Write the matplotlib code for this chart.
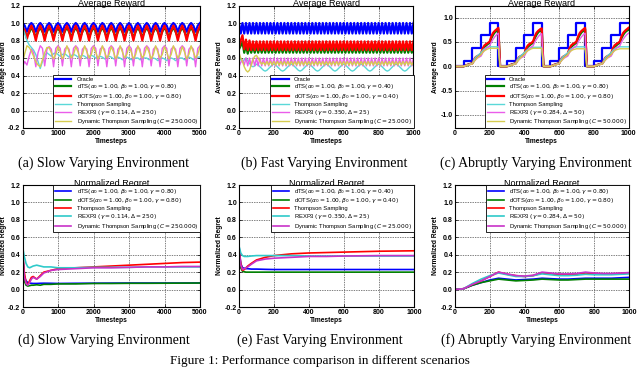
import numpy as np
import matplotlib.pyplot as plt

plt.rcParams['font.family'] = ['Liberation Sans', 'DejaVu Sans']
plt.rcParams['mathtext.fontset'] = 'dejavusans'

# ---------------- data: average reward, slow varying (step 62.5)
ta = np.arange(0, 5001, 62.5)
oracle_a = [
    1.00, 0.97, 0.90, 0.97, 1.00, 0.97, 0.90, 0.97,
    1.00, 0.97, 0.90, 0.97, 1.00, 0.97, 0.90, 0.97,
    1.00, 0.97, 0.90, 0.97, 1.00, 0.97, 0.90, 0.97,
    1.00, 0.97, 0.90, 0.97, 1.00, 0.97, 0.90, 0.97,
    1.00, 0.97, 0.90, 0.97, 1.00, 0.97, 0.90, 0.97,
    1.00, 0.97, 0.90, 0.97, 1.00, 0.97, 0.90, 0.97,
    1.00, 0.97, 0.90, 0.97, 1.00, 0.97, 0.90, 0.97,
    1.00, 0.97, 0.90, 0.97, 1.00, 0.97, 0.90, 0.97,
    1.00, 0.97, 0.90, 0.97, 1.00, 0.97, 0.90, 0.97,
    1.00, 0.97, 0.90, 0.97, 1.00, 0.97, 0.90, 0.97,
    1.00,
]
dts_a = [
    0.90, 0.90, 0.85, 0.89, 0.95, 0.90, 0.84, 0.90,
    0.95, 0.90, 0.84, 0.90, 0.95, 0.90, 0.84, 0.90,
    0.95, 0.90, 0.84, 0.90, 0.95, 0.90, 0.84, 0.90,
    0.95, 0.90, 0.84, 0.90, 0.95, 0.90, 0.84, 0.90,
    0.95, 0.90, 0.84, 0.90, 0.95, 0.90, 0.84, 0.90,
    0.95, 0.90, 0.84, 0.90, 0.95, 0.90, 0.84, 0.90,
    0.95, 0.90, 0.84, 0.90, 0.95, 0.90, 0.84, 0.90,
    0.95, 0.90, 0.84, 0.90, 0.95, 0.90, 0.84, 0.90,
    0.95, 0.90, 0.84, 0.90, 0.95, 0.90, 0.84, 0.90,
    0.95, 0.90, 0.84, 0.90, 0.95, 0.90, 0.84, 0.90,
    0.95,
]
dots_a = [
    0.95, 0.92, 0.82, 0.91, 0.97, 0.91, 0.80, 0.91,
    0.97, 0.91, 0.80, 0.91, 0.97, 0.91, 0.80, 0.91,
    0.97, 0.91, 0.80, 0.91, 0.97, 0.91, 0.80, 0.91,
    0.97, 0.91, 0.80, 0.91, 0.97, 0.91, 0.80, 0.91,
    0.97, 0.91, 0.80, 0.91, 0.97, 0.91, 0.80, 0.91,
    0.97, 0.91, 0.80, 0.91, 0.97, 0.91, 0.80, 0.91,
    0.97, 0.91, 0.80, 0.91, 0.97, 0.91, 0.80, 0.91,
    0.97, 0.91, 0.80, 0.91, 0.97, 0.91, 0.80, 0.91,
    0.97, 0.91, 0.80, 0.91, 0.97, 0.91, 0.80, 0.91,
    0.97, 0.91, 0.80, 0.91, 0.97, 0.91, 0.80, 0.91,
    0.97,
]
ts_a = [
    0.95, 0.88, 0.80, 0.75, 0.72, 0.69, 0.64, 0.56,
    0.48, 0.56, 0.63, 0.66, 0.64, 0.62, 0.65, 0.66,
    0.64, 0.62, 0.64, 0.65, 0.63, 0.61, 0.63, 0.64,
    0.63, 0.61, 0.62, 0.63, 0.62, 0.60, 0.62, 0.63,
    0.62, 0.60, 0.61, 0.62, 0.61, 0.59, 0.61, 0.62,
    0.61, 0.59, 0.60, 0.61, 0.60, 0.58, 0.60, 0.61,
    0.60, 0.58, 0.59, 0.60, 0.60, 0.58, 0.59, 0.60,
    0.60, 0.58, 0.59, 0.60, 0.59, 0.57, 0.59, 0.60,
    0.59, 0.57, 0.59, 0.60, 0.59, 0.57, 0.59, 0.60,
    0.60, 0.58, 0.59, 0.61, 0.60, 0.58, 0.60, 0.61,
    0.61,
]
rexp3_a = [
    0.50, 0.56, 0.52, 0.62, 0.70, 0.66, 0.50, 0.66,
    0.74, 0.71, 0.51, 0.70, 0.73, 0.70, 0.50, 0.71,
    0.74, 0.71, 0.51, 0.70, 0.73, 0.70, 0.50, 0.71,
    0.74, 0.71, 0.51, 0.70, 0.73, 0.70, 0.50, 0.71,
    0.74, 0.71, 0.51, 0.70, 0.73, 0.70, 0.50, 0.71,
    0.74, 0.71, 0.51, 0.70, 0.73, 0.70, 0.50, 0.71,
    0.74, 0.71, 0.51, 0.70, 0.73, 0.70, 0.50, 0.71,
    0.74, 0.71, 0.51, 0.70, 0.73, 0.70, 0.50, 0.71,
    0.74, 0.71, 0.51, 0.70, 0.73, 0.70, 0.50, 0.71,
    0.74, 0.71, 0.51, 0.70, 0.73, 0.70, 0.50, 0.71,
    0.74,
]
dyn_a = [
    0.55, 0.65, 0.74, 0.72, 0.68, 0.62, 0.56, 0.52,
    0.50, 0.58, 0.66, 0.72, 0.72, 0.66, 0.59, 0.64,
    0.73, 0.67, 0.59, 0.64, 0.74, 0.67, 0.60, 0.64,
    0.73, 0.67, 0.59, 0.64, 0.74, 0.67, 0.60, 0.64,
    0.73, 0.67, 0.59, 0.64, 0.74, 0.67, 0.60, 0.64,
    0.73, 0.67, 0.59, 0.64, 0.74, 0.67, 0.60, 0.64,
    0.73, 0.67, 0.59, 0.64, 0.74, 0.67, 0.60, 0.64,
    0.73, 0.67, 0.59, 0.64, 0.74, 0.67, 0.60, 0.64,
    0.73, 0.67, 0.59, 0.64, 0.74, 0.67, 0.60, 0.64,
    0.73, 0.67, 0.59, 0.64, 0.74, 0.67, 0.60, 0.64,
    0.73,
]

# ---------------- average reward, fast varying (step 10)
tb = np.arange(0, 1001, 10)
oracle_b = [
    1.00, 0.88, 1.00, 0.88, 1.00, 0.88, 1.00, 0.88, 1.00, 0.88,
    1.00, 0.88, 1.00, 0.88, 1.00, 0.88, 1.00, 0.88, 1.00, 0.88,
    1.00, 0.88, 1.00, 0.88, 1.00, 0.88, 1.00, 0.88, 1.00, 0.88,
    1.00, 0.88, 1.00, 0.88, 1.00, 0.88, 1.00, 0.88, 1.00, 0.88,
    1.00, 0.88, 1.00, 0.88, 1.00, 0.88, 1.00, 0.88, 1.00, 0.88,
    1.00, 0.88, 1.00, 0.88, 1.00, 0.88, 1.00, 0.88, 1.00, 0.88,
    1.00, 0.88, 1.00, 0.88, 1.00, 0.88, 1.00, 0.88, 1.00, 0.88,
    1.00, 0.88, 1.00, 0.88, 1.00, 0.88, 1.00, 0.88, 1.00, 0.88,
    1.00, 0.88, 1.00, 0.88, 1.00, 0.88, 1.00, 0.88, 1.00, 0.88,
    1.00, 0.88, 1.00, 0.88, 1.00, 0.88, 1.00, 0.88, 1.00, 0.88,
    1.00,
]
dts_b = [
    0.70, 0.74, 0.78, 0.66, 0.75, 0.65, 0.74, 0.66, 0.74, 0.66,
    0.74, 0.66, 0.74, 0.66, 0.74, 0.66, 0.74, 0.66, 0.74, 0.66,
    0.74, 0.66, 0.74, 0.66, 0.74, 0.66, 0.74, 0.66, 0.74, 0.66,
    0.74, 0.66, 0.74, 0.66, 0.74, 0.66, 0.74, 0.66, 0.74, 0.66,
    0.74, 0.66, 0.74, 0.66, 0.74, 0.66, 0.74, 0.66, 0.74, 0.66,
    0.74, 0.66, 0.74, 0.66, 0.74, 0.66, 0.74, 0.66, 0.74, 0.66,
    0.74, 0.66, 0.74, 0.66, 0.74, 0.66, 0.74, 0.66, 0.74, 0.66,
    0.74, 0.66, 0.74, 0.66, 0.74, 0.66, 0.74, 0.66, 0.74, 0.66,
    0.74, 0.66, 0.74, 0.66, 0.74, 0.66, 0.74, 0.66, 0.74, 0.66,
    0.74, 0.66, 0.74, 0.66, 0.74, 0.66, 0.74, 0.66, 0.74, 0.66,
    0.74,
]
dots_b = [
    0.72, 0.80, 0.86, 0.70, 0.81, 0.69, 0.80, 0.69, 0.79, 0.69,
    0.79, 0.69, 0.79, 0.69, 0.79, 0.69, 0.79, 0.69, 0.79, 0.69,
    0.79, 0.69, 0.79, 0.69, 0.79, 0.69, 0.79, 0.69, 0.79, 0.69,
    0.79, 0.69, 0.79, 0.69, 0.79, 0.69, 0.79, 0.69, 0.79, 0.69,
    0.79, 0.69, 0.79, 0.69, 0.79, 0.69, 0.79, 0.69, 0.79, 0.69,
    0.79, 0.69, 0.79, 0.69, 0.79, 0.69, 0.79, 0.69, 0.79, 0.69,
    0.79, 0.69, 0.79, 0.69, 0.79, 0.69, 0.79, 0.69, 0.79, 0.69,
    0.79, 0.69, 0.79, 0.69, 0.79, 0.69, 0.79, 0.69, 0.79, 0.69,
    0.79, 0.69, 0.79, 0.69, 0.79, 0.69, 0.79, 0.69, 0.79, 0.69,
    0.79, 0.69, 0.79, 0.69, 0.79, 0.69, 0.79, 0.69, 0.79, 0.69,
    0.79,
]
ts_b = [
    0.62, 0.58, 0.55, 0.58, 0.60, 0.57, 0.54, 0.51, 0.50, 0.51,
    0.53, 0.52, 0.50, 0.48, 0.46, 0.45, 0.46, 0.48, 0.50, 0.52,
    0.53, 0.52, 0.50, 0.48, 0.46, 0.45, 0.46, 0.48, 0.50, 0.52,
    0.53, 0.52, 0.50, 0.48, 0.46, 0.45, 0.46, 0.48, 0.50, 0.52,
    0.53, 0.52, 0.50, 0.48, 0.46, 0.45, 0.46, 0.48, 0.50, 0.52,
    0.53, 0.52, 0.50, 0.48, 0.46, 0.45, 0.46, 0.48, 0.50, 0.52,
    0.53, 0.52, 0.50, 0.48, 0.46, 0.45, 0.46, 0.48, 0.50, 0.52,
    0.53, 0.52, 0.50, 0.48, 0.46, 0.45, 0.46, 0.48, 0.50, 0.52,
    0.53, 0.52, 0.50, 0.48, 0.46, 0.45, 0.46, 0.48, 0.50, 0.52,
    0.53, 0.52, 0.50, 0.48, 0.46, 0.45, 0.46, 0.48, 0.50, 0.52,
    0.53,
]
rexp3_b = [
    0.50, 0.55, 0.58, 0.52, 0.60, 0.51, 0.60, 0.51, 0.60, 0.51,
    0.60, 0.51, 0.60, 0.51, 0.60, 0.51, 0.60, 0.51, 0.60, 0.51,
    0.60, 0.51, 0.60, 0.51, 0.60, 0.51, 0.60, 0.51, 0.60, 0.51,
    0.60, 0.51, 0.60, 0.51, 0.60, 0.51, 0.60, 0.51, 0.60, 0.51,
    0.60, 0.51, 0.60, 0.51, 0.60, 0.51, 0.60, 0.51, 0.60, 0.51,
    0.60, 0.51, 0.60, 0.51, 0.60, 0.51, 0.60, 0.51, 0.60, 0.51,
    0.60, 0.51, 0.60, 0.51, 0.60, 0.51, 0.60, 0.51, 0.60, 0.51,
    0.60, 0.51, 0.60, 0.51, 0.60, 0.51, 0.60, 0.51, 0.60, 0.51,
    0.60, 0.51, 0.60, 0.51, 0.60, 0.51, 0.60, 0.51, 0.60, 0.51,
    0.60, 0.51, 0.60, 0.51, 0.60, 0.51, 0.60, 0.51, 0.60, 0.51,
    0.60,
]
dyn_b = [
    0.66, 0.60, 0.56, 0.50, 0.46, 0.44, 0.46, 0.52, 0.58, 0.62,
    0.63, 0.60, 0.56, 0.53, 0.55, 0.52, 0.56, 0.52, 0.56, 0.52,
    0.56, 0.52, 0.56, 0.52, 0.56, 0.52, 0.56, 0.52, 0.56, 0.52,
    0.56, 0.52, 0.56, 0.52, 0.56, 0.52, 0.56, 0.52, 0.56, 0.52,
    0.56, 0.52, 0.56, 0.52, 0.56, 0.52, 0.56, 0.52, 0.56, 0.52,
    0.56, 0.52, 0.56, 0.52, 0.56, 0.52, 0.56, 0.52, 0.56, 0.52,
    0.56, 0.52, 0.56, 0.52, 0.56, 0.52, 0.56, 0.52, 0.56, 0.52,
    0.56, 0.52, 0.56, 0.52, 0.56, 0.52, 0.56, 0.52, 0.56, 0.52,
    0.56, 0.52, 0.56, 0.52, 0.56, 0.52, 0.56, 0.52, 0.56, 0.52,
    0.56, 0.52, 0.56, 0.52, 0.56, 0.52, 0.56, 0.52, 0.56, 0.52,
    0.56,
]

# ---------------- average reward, abruptly varying
tc_oracle = np.arange(0, 1001, 50)
oracle_c = [0.00, 0.10, 0.37, 0.65, 0.90, 0.00, 0.10, 0.37, 0.65, 0.90,
            0.00, 0.10, 0.37, 0.65, 0.90, 0.00, 0.10, 0.37, 0.65, 0.90, 0.90]
tc = np.arange(0, 1001, 10)
dts_c = [
    0.00,
    0.00, 0.00, 0.00, 0.00, 0.00, 0.01, 0.02, 0.04, 0.05, 0.06, 0.12, 0.17, 0.20,
    0.22, 0.25, 0.34, 0.40, 0.43, 0.46, 0.48, 0.58, 0.65, 0.70, 0.73, 0.76,
    0.00, 0.00, 0.00, 0.00, 0.00, 0.01, 0.02, 0.04, 0.05, 0.06, 0.12, 0.17, 0.20,
    0.22, 0.25, 0.35, 0.40, 0.43, 0.46, 0.48, 0.58, 0.65, 0.70, 0.73, 0.75,
    0.00, 0.00, 0.00, 0.00, 0.00, 0.01, 0.02, 0.04, 0.05, 0.06, 0.12, 0.17, 0.20,
    0.22, 0.25, 0.34, 0.40, 0.43, 0.46, 0.48, 0.58, 0.65, 0.70, 0.73, 0.76,
    0.00, 0.00, 0.00, 0.00, 0.00, 0.01, 0.02, 0.04, 0.05, 0.06, 0.12, 0.17, 0.20,
    0.22, 0.25, 0.34, 0.40, 0.43, 0.46, 0.48, 0.58, 0.65, 0.70, 0.73, 0.75,
]
dots_c = [
    0.00,
    0.00, 0.00, 0.00, 0.00, 0.00, 0.01, 0.03, 0.04, 0.05, 0.06, 0.14, 0.19, 0.21,
    0.23, 0.26, 0.37, 0.43, 0.46, 0.48, 0.51, 0.62, 0.69, 0.73, 0.76, 0.79,
    0.00, 0.00, 0.00, 0.00, 0.00, 0.01, 0.03, 0.04, 0.05, 0.06, 0.14, 0.19, 0.21,
    0.23, 0.26, 0.37, 0.43, 0.46, 0.48, 0.51, 0.62, 0.69, 0.73, 0.76, 0.78,
    0.00, 0.00, 0.00, 0.00, 0.00, 0.01, 0.03, 0.04, 0.05, 0.06, 0.14, 0.19, 0.21,
    0.23, 0.26, 0.37, 0.43, 0.46, 0.48, 0.51, 0.62, 0.69, 0.73, 0.76, 0.79,
    0.00, 0.00, 0.00, 0.00, 0.00, 0.01, 0.03, 0.04, 0.05, 0.06, 0.14, 0.19, 0.21,
    0.23, 0.26, 0.37, 0.43, 0.46, 0.48, 0.51, 0.62, 0.69, 0.73, 0.76, 0.79,
]
ts_c = [
    0.00,
    0.00, 0.00, 0.00, 0.00, 0.00, 0.01, 0.03, 0.04, 0.05, 0.06, 0.14, 0.19, 0.22,
    0.25, 0.28, 0.33, 0.36, 0.38, 0.39, 0.40, 0.40, 0.40, 0.40, 0.40, 0.40,
    0.00, 0.00, 0.00, 0.00, 0.00, 0.01, 0.03, 0.04, 0.05, 0.06, 0.14, 0.19, 0.22,
    0.25, 0.28, 0.32, 0.35, 0.37, 0.38, 0.39, 0.39, 0.39, 0.39, 0.39, 0.39,
    0.00, 0.00, 0.00, 0.00, 0.00, 0.01, 0.03, 0.04, 0.05, 0.06, 0.14, 0.19, 0.22,
    0.25, 0.28, 0.33, 0.36, 0.38, 0.39, 0.40, 0.40, 0.40, 0.40, 0.40, 0.40,
    0.00, 0.00, 0.00, 0.00, 0.00, 0.01, 0.03, 0.04, 0.05, 0.06, 0.14, 0.19, 0.22,
    0.25, 0.28, 0.33, 0.36, 0.38, 0.39, 0.40, 0.40, 0.40, 0.40, 0.40, 0.40,
]
rexp3_c = [
    0.00,
    0.00, 0.00, 0.00, 0.00, 0.00, 0.01, 0.02, 0.03, 0.04, 0.05, 0.10, 0.14, 0.17,
    0.19, 0.21, 0.28, 0.33, 0.37, 0.40, 0.42, 0.50, 0.56, 0.61, 0.65, 0.68,
    0.00, 0.00, 0.00, 0.00, 0.00, 0.01, 0.02, 0.03, 0.04, 0.05, 0.10, 0.14, 0.17,
    0.19, 0.21, 0.28, 0.33, 0.37, 0.40, 0.42, 0.50, 0.56, 0.61, 0.65, 0.67,
    0.00, 0.00, 0.00, 0.00, 0.00, 0.01, 0.02, 0.03, 0.04, 0.05, 0.10, 0.14, 0.17,
    0.19, 0.21, 0.28, 0.33, 0.37, 0.40, 0.42, 0.50, 0.56, 0.61, 0.65, 0.68,
    0.00, 0.00, 0.00, 0.00, 0.00, 0.01, 0.02, 0.03, 0.04, 0.05, 0.10, 0.14, 0.17,
    0.19, 0.21, 0.28, 0.33, 0.37, 0.40, 0.42, 0.50, 0.56, 0.61, 0.65, 0.68,
]
dyn_c = [
    0.00,
    0.00, 0.00, 0.00, 0.00, 0.00, 0.01, 0.02, 0.03, 0.04, 0.05, 0.10, 0.14, 0.18,
    0.21, 0.24, 0.29, 0.32, 0.34, 0.36, 0.37, 0.37, 0.37, 0.37, 0.37, 0.37,
    0.00, 0.00, 0.00, 0.00, 0.00, 0.01, 0.02, 0.03, 0.04, 0.05, 0.10, 0.14, 0.18,
    0.21, 0.24, 0.29, 0.32, 0.34, 0.36, 0.37, 0.37, 0.37, 0.37, 0.37, 0.37,
    0.00, 0.00, 0.00, 0.00, 0.00, 0.01, 0.02, 0.03, 0.04, 0.05, 0.10, 0.14, 0.18,
    0.21, 0.24, 0.29, 0.32, 0.34, 0.35, 0.36, 0.36, 0.36, 0.36, 0.36, 0.36,
    0.00, 0.00, 0.00, 0.00, 0.00, 0.01, 0.02, 0.03, 0.04, 0.05, 0.10, 0.14, 0.18,
    0.21, 0.24, 0.29, 0.32, 0.34, 0.35, 0.36, 0.36, 0.36, 0.36, 0.36, 0.36,
]

# ---------------- normalized regret
xd = [0, 50, 100, 150, 200, 250, 300, 400, 500, 600, 800, 1000,
      1500, 2000, 2500, 3000, 3500, 4000, 4500, 5000]
dts_d = [0.45, 0.15, 0.10, 0.08, 0.075, 0.072, 0.07, 0.07, 0.072, 0.073, 0.072, 0.07,
         0.072, 0.073, 0.074, 0.075, 0.075, 0.075, 0.075, 0.076]
dots_d = [0.40, 0.10, 0.05, 0.04, 0.045, 0.05, 0.05, 0.055, 0.05, 0.06, 0.06, 0.065,
          0.065, 0.07, 0.07, 0.072, 0.072, 0.073, 0.074, 0.075]
ts_d = [0.45, 0.20, 0.08, 0.06, 0.10, 0.14, 0.15, 0.12, 0.16, 0.20, 0.22, 0.24,
        0.25, 0.26, 0.27, 0.28, 0.29, 0.30, 0.31, 0.315]
rexp3_d = [0.50, 0.38, 0.30, 0.26, 0.25, 0.26, 0.27, 0.28, 0.27, 0.26, 0.26, 0.25,
           0.25, 0.255, 0.255, 0.255, 0.26, 0.26, 0.26, 0.26]
dyn_d = [0.45, 0.15, 0.07, 0.05, 0.08, 0.12, 0.14, 0.12, 0.15, 0.19, 0.22, 0.23,
         0.24, 0.25, 0.25, 0.255, 0.26, 0.26, 0.265, 0.265]

xe = [0, 10, 20, 30, 40, 50, 70, 100, 150, 200, 300, 400, 500, 600, 800, 1000]
dts_e = [0.50, 0.30, 0.25, 0.245, 0.24, 0.24, 0.235, 0.235, 0.232, 0.23, 0.23, 0.23,
         0.23, 0.23, 0.23, 0.23]
dots_e = [0.48, 0.25, 0.21, 0.205, 0.20, 0.20, 0.20, 0.20, 0.20, 0.20, 0.20, 0.20,
          0.20, 0.20, 0.20, 0.20]
ts_e = [0.45, 0.30, 0.22, 0.23, 0.25, 0.27, 0.30, 0.34, 0.37, 0.39, 0.41, 0.42,
        0.425, 0.43, 0.44, 0.445]
rexp3_e = [0.50, 0.42, 0.39, 0.38, 0.38, 0.38, 0.385, 0.39, 0.39, 0.39, 0.39, 0.385,
           0.385, 0.385, 0.385, 0.385]
dyn_e = [0.45, 0.28, 0.23, 0.24, 0.25, 0.26, 0.29, 0.33, 0.35, 0.36, 0.37, 0.38,
         0.38, 0.385, 0.39, 0.39]

xf = [0, 50, 100, 150, 200, 250, 300, 350, 400, 450, 500, 550, 600, 650, 700,
      750, 800, 850, 900, 950, 1000]
dts_f = [0, 0.01, 0.05, 0.08, 0.11, 0.13, 0.12, 0.11, 0.115, 0.12, 0.13, 0.125,
         0.12, 0.12, 0.125, 0.13, 0.13, 0.13, 0.13, 0.135, 0.14]
dots_f = [0, 0.01, 0.05, 0.08, 0.10, 0.12, 0.11, 0.10, 0.105, 0.11, 0.12, 0.115,
          0.11, 0.11, 0.115, 0.12, 0.12, 0.12, 0.12, 0.12, 0.12]
ts_f = [0, 0.01, 0.06, 0.10, 0.15, 0.20, 0.175, 0.16, 0.15, 0.16, 0.19, 0.18,
        0.17, 0.17, 0.175, 0.19, 0.185, 0.18, 0.18, 0.185, 0.19]
rexp3_f = [0, 0.01, 0.07, 0.12, 0.16, 0.19, 0.17, 0.15, 0.15, 0.16, 0.18, 0.17,
           0.16, 0.16, 0.165, 0.175, 0.17, 0.17, 0.17, 0.175, 0.18]
dyn_f = [0, 0.01, 0.06, 0.10, 0.15, 0.20, 0.18, 0.16, 0.155, 0.165, 0.20, 0.19,
         0.18, 0.18, 0.185, 0.20, 0.19, 0.185, 0.185, 0.19, 0.195]

# legend labels (gamma of dTS/dOTS, REXP3 params, DTS C)
params = {
    'a': ('0.80', '0.114', '250', '250.000'),
    'b': ('0.40', '0.350', '25', '25.000'),
    'c': ('0.80', '0.284', '50', '50.000'),
}
captions = ['(a) Slow Varying Environment', '(b) Fast Varying Environment',
            '(c) Abruptly Varying Environment', '(d) Slow Varying Environment',
            '(e) Fast Varying Environment', '(f) Abruptly Varying Environment']


def labels(key):
    g, rg, rd, c = params[key]
    return [
        r'dTS$(\alpha_0=1.00, \beta_0=1.00, \gamma=%s)$' % g,
        r'dOTS$(\alpha_0=1.00, \beta_0=1.00, \gamma=%s)$' % g,
        'Thompson Sampling',
        r'REXP3 $(\gamma=%s, \Delta=%s)$' % (rg, rd),
        r'Dynamic Thompson Sampling $(C=%s)$' % c,
    ]


W, H = 640.0, 368.0


def box(l, r, t, b):
    return [l / W, 1 - b / H, (r - l) / W, (b - t) / H]


tick_font = dict(fontsize=5, fontweight='bold')


def style(ax, xlim, ylim, xt, yt, title, ylabel):
    ax.set_xlim(xlim)
    ax.set_ylim(ylim)
    ax.set_xticks(xt)
    ax.set_yticks(yt)
    ax.set_xticklabels([str(v) for v in xt], **tick_font)
    ax.set_yticklabels(['%.1f' % v for v in yt], **tick_font)
    ax.tick_params(direction='in', length=2, width=0.5, pad=1.5,
                   top=True, right=True)
    ax.grid(True, color='0.3', linestyle=(0, (2, 1.5)), linewidth=0.5)
    for s in ax.spines.values():
        s.set_linewidth(0.8)
    ax.set_title(title, fontsize=6.5, pad=-0.5)
    ax.set_xlabel('Timesteps', fontsize=4.8, fontweight='bold', labelpad=1)
    ax.set_ylabel(ylabel, fontsize=4.8, fontweight='bold', labelpad=1)


def leg(ax, loc):
    lg = ax.legend(loc=loc, borderaxespad=0, fontsize=4.2, handlelength=2.8,
                   handletextpad=0.9, labelspacing=0.12, borderpad=0.3,
                   fancybox=False, edgecolor='k', framealpha=1)
    lg.get_frame().set_linewidth(0.6)


fig = plt.figure(figsize=(6.4, 3.68), dpi=100)

top = [box(22.5, 200, 5.5, 128), box(239, 413.5, 5.5, 128), box(455, 628.5, 5.5, 128)]
bot = [box(22.5, 200, 185, 307), box(239, 414, 185, 307), box(455, 629, 185, 307)]

c_cy, c_mg, c_ye = '#5ad8d8', '#ea5cea', '#d6cc50'

# top row
for pos, key, t, data in [
        (top[0], 'a', ta, (oracle_a, dts_a, dots_a, ts_a, rexp3_a, dyn_a)),
        (top[1], 'b', tb, (oracle_b, dts_b, dots_b, ts_b, rexp3_b, dyn_b)),
        (top[2], 'c', tc, (None, dts_c, dots_c, ts_c, rexp3_c, dyn_c))]:
    ax = fig.add_axes(pos)
    lab = labels(key)
    if key == 'c':
        ax.step(tc_oracle, oracle_c, where='post', color='b', lw=1.6, label='Oracle')
    else:
        ax.plot(t, data[0], color='b', lw=1.6, label='Oracle')
    ax.plot(t, data[1], color='g', lw=1.6, label=lab[0])
    ax.plot(t, data[2], color='r', lw=1.6, label=lab[1])
    ax.plot(t, data[3], color=c_cy, lw=1.0, label=lab[2])
    ax.plot(t, data[4], color=c_mg, lw=1.0, label=lab[3])
    ax.plot(t, data[5], color=c_ye, lw=1.0, label=lab[4])
    if key == 'a':
        style(ax, (0, 5000), (-0.2, 1.2), list(range(0, 5001, 1000)),
              [-0.2, 0.0, 0.2, 0.4, 0.6, 0.8, 1.0, 1.2], 'Average Reward', 'Average Reward')
    elif key == 'b':
        style(ax, (0, 1000), (-0.2, 1.2), list(range(0, 1001, 200)),
              [-0.2, 0.0, 0.2, 0.4, 0.6, 0.8, 1.0, 1.2], 'Average Reward', 'Average Reward')
    else:
        style(ax, (0, 1000), (-1.27, 1.25), list(range(0, 1001, 200)),
              [-1.0, -0.5, 0.0, 0.5, 1.0], 'Average Reward', 'Average Reward')
    leg(ax, 'lower right')

# bottom row
for pos, key, x, data in [
        (bot[0], 'a', xd, (dts_d, dots_d, ts_d, rexp3_d, dyn_d)),
        (bot[1], 'b', xe, (dts_e, dots_e, ts_e, rexp3_e, dyn_e)),
        (bot[2], 'c', xf, (dts_f, dots_f, ts_f, rexp3_f, dyn_f))]:
    ax = fig.add_axes(pos)
    lab = labels(key)
    for y, col, l in zip(data, ['b', 'g', 'r', '#2fcaca', '#c832c8'], lab):
        ax.plot(x, y, color=col, lw=1.2, label=l)
    xmax = 5000 if key == 'a' else 1000
    step = 1000 if key == 'a' else 200
    style(ax, (0, xmax), (-0.2, 1.2), list(range(0, xmax + 1, step)),
          [-0.2, 0.0, 0.2, 0.4, 0.6, 0.8, 1.0, 1.2], 'Normalized Regret', 'Normalized Regret')
    leg(ax, 'upper right')

# captions
cap_x = [104, 324, 536, 104, 320, 536]
cap_y = [163, 163, 163, 340, 340, 340]
for cx, cy, txt in zip(cap_x, cap_y, captions):
    fig.text(cx / W, 1 - cy / H, txt, ha='center', va='center',
             fontsize=10, family='Liberation Serif')
fig.text(0.5, 1 - 355 / H, 'Figure 1: Performance comparison in different scenarios',
         ha='center', va='top', fontsize=9.5, family='Liberation Serif')

fig.savefig('out.png', dpi=100)
